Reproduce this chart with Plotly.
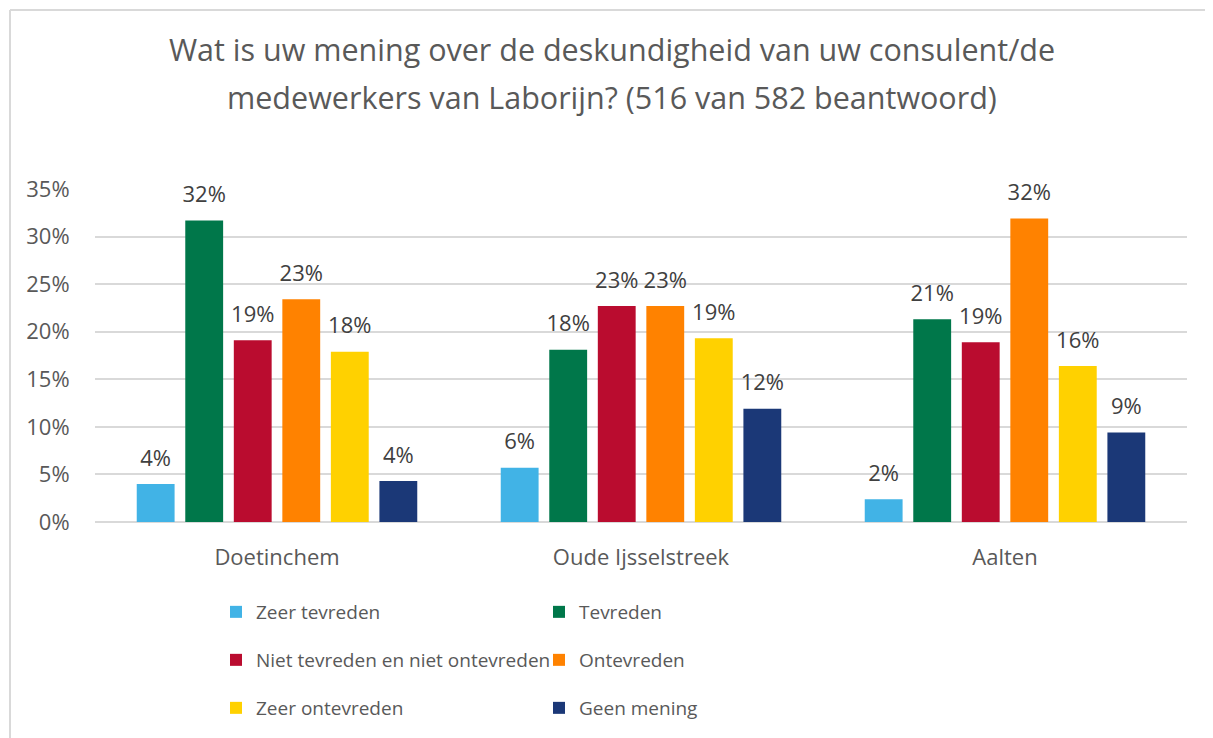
import plotly.graph_objects as go

categories = ["Doetinchem", "Oude Ijsselstreek", "Aalten"]
series_names = ["Zeer tevreden", "Tevreden", "Niet tevreden en niet ontevreden",
                "Ontevreden", "Zeer ontevreden", "Geen mening"]
zeer_tevreden = [0.040, 0.057, 0.024]
tevreden = [0.317, 0.181, 0.213]
niet_niet = [0.191, 0.227, 0.189]
ontevreden = [0.234, 0.227, 0.319]
zeer_ontevreden = [0.179, 0.193, 0.164]
geen_mening = [0.043, 0.119, 0.094]
colors = ["#41B3E6", "#00774A", "#BA0C2F", "#FF8200", "#FFD100", "#1B3877"]
y_ticks = [0, 0.05, 0.10, 0.15, 0.20, 0.25, 0.30, 0.35]
title_lines = ["Wat is uw mening over de deskundigheid van uw consulent/de",
               "medewerkers van Laborijn? (516 van 582 beantwoord)"]

values = [zeer_tevreden, tevreden, niet_niet, ontevreden, zeer_ontevreden, geen_mening]
legend_ids = ["legend", "legend", "legend2", "legend2", "legend3", "legend3"]

FONT = "Open Sans"
fig = go.Figure()
for i, (name, vals, col, lg) in enumerate(zip(series_names, values, colors, legend_ids)):
    fig.add_trace(go.Bar(
        name=name, x=categories, y=vals,
        marker=dict(color=col, line=dict(width=0)),
        legend=lg, offsetgroup=str(i), hoverinfo="x+y+name",
    ))
# data labels, grouped the same way as the bars
for i, (name, vals) in enumerate(zip(series_names, values)):
    fig.add_trace(go.Scatter(
        x=categories, y=vals, mode="markers+text",
        text=[f"{v:.0%}" for v in vals], textposition="top center",
        textfont=dict(size=22, color="#404040", family=FONT),
        marker=dict(size=19, color="rgba(0,0,0,0)"),
        offsetgroup=str(i), showlegend=False, hoverinfo="skip", cliponaxis=False,
    ))

W, H = 1213, 738
OFF = 8  # page offset of the plot div
ml, mr, mt, mb = 95 - OFF, W - 1187 + OFF, 189 - OFF, H - 522 + OFF
pw = W - ml - mr
ph = H - mt - mb


def px_x(x):
    return (x - OFF - ml) / pw


def px_y(y):
    return (H - mb - (y - OFF)) / ph


leg_common = dict(orientation="h", xanchor="left", yanchor="middle",
                  entrywidth=278, font=dict(size=19, color="#595959", family=FONT),
                  bgcolor="rgba(0,0,0,0)", traceorder="normal")

fig.update_layout(
    width=W, height=H,
    margin=dict(l=ml, r=mr, t=mt, b=mb, autoexpand=False),
    paper_bgcolor="white", plot_bgcolor="white",
    font=dict(family=FONT, color="#595959"),
    title=dict(text=title_lines[0],
               x=(612 - OFF) / W, xanchor="center", xref="container",
               y=1 - (50 - OFF) / H, yanchor="middle", yref="container",
               font=dict(size=30.5, color="#595959", family=FONT)),
    barmode="group", bargap=0.2, bargroupgap=0.22,
    scattermode="group", scattergap=0.2,
    xaxis=dict(showgrid=False, showline=False, ticks="outside", ticklen=16,
               tickcolor="rgba(0,0,0,0)",
               tickfont=dict(size=22, color="#595959", family=FONT)),
    yaxis=dict(range=[0, 0.35], tickvals=y_ticks, tickformat=".0%",
               showgrid=True, gridcolor="#D9D9D9", gridwidth=1.5,
               zeroline=True, zerolinecolor="#D9D9D9", zerolinewidth=1.5,
               ticks="outside", ticklen=20, tickcolor="rgba(0,0,0,0)",
               tickfont=dict(size=22, color="#595959", family=FONT)),
    legend=dict(x=px_x(216), y=px_y(612), **leg_common),
    legend2=dict(x=px_x(216), y=px_y(660), **leg_common),
    legend3=dict(x=px_x(216), y=px_y(708), **leg_common),
    showlegend=True,
    annotations=[dict(text=title_lines[1], xref="paper", yref="paper",
                      x=px_x(612), y=px_y(97), xanchor="center", yanchor="middle",
                      showarrow=False, font=dict(size=30.5, color="#595959", family=FONT))],
)

# chart-area border (top and left edges visible in the reference)
fig.add_shape(type="line", xref="paper", yref="paper",
              x0=px_x(10), x1=px_x(1240), y0=px_y(10), y1=px_y(10),
              line=dict(color="#D9D9D9", width=2), layer="above")
fig.add_shape(type="line", xref="paper", yref="paper",
              x0=px_x(10), x1=px_x(10), y0=px_y(10), y1=px_y(780),
              line=dict(color="#D9D9D9", width=2), layer="above")

fig.write_html("out.html")
